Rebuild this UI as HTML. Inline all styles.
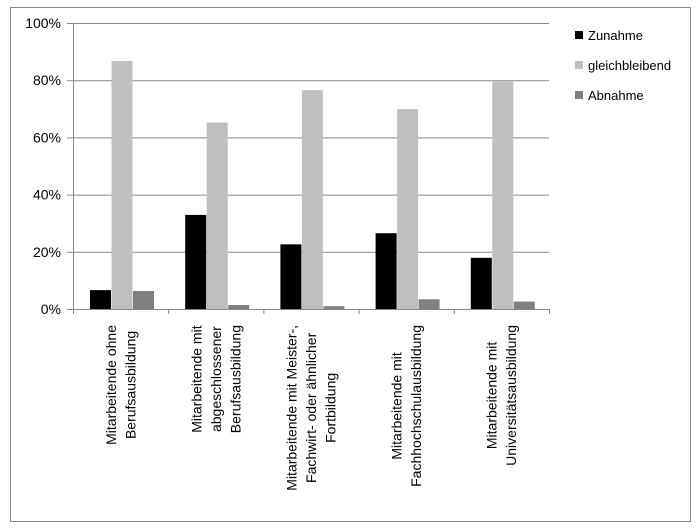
<!DOCTYPE html>
<html><head><meta charset="utf-8"><style>
body{margin:0;background:#fff;}
svg{display:block;font-family:"Liberation Sans",sans-serif;}
</style></head><body>
<svg id="chart" width="699" height="529" viewBox="0 0 699 529">
<rect x="10.5" y="7.5" width="680" height="514" fill="#fff" stroke="#888" stroke-width="1"/>
<g id="grid"></g><g id="bars"></g><g id="axes"></g><g id="labels"></g><g id="legend"></g>
</svg>
<script>
const categories=[["Mitarbeitende ohne","Berufsausbildung"],["Mitarbeitende mit","abgeschlossener","Berufsausbildung"],["Mitarbeitende mit Meister-,","Fachwirt- oder ähnlicher","Fortbildung"],["Mitarbeitende mit","Fachhochschulausbildung"],["Mitarbeitende mit","Universitätsausbildung"]];
const seriesNames=["Zunahme","gleichbleibend","Abnahme"];
const zunahme=[6.6,32.9,22.6,26.5,17.9];
const gleichbleibend=[86.7,65.2,76.5,69.9,79.5];
const abnahme=[6.3,1.4,1.0,3.4,2.6];
const yTicks=[0,20,40,60,80,100];
const tickLabels=["0%","20%","40%","60%","80%","100%"];
const NS="http://www.w3.org/2000/svg";
const colors=["#000000","#bfbfbf","#808080"];
const L=73,R=549,T=23,B=309;
const y=v=>B-(v/100)*(B-T);
const catW=(R-L)/categories.length;
const x=i=>L+i*catW;
function mk(tag,attrs,parent){const e=document.createElementNS(NS,tag);for(const k in attrs)e.setAttribute(k,attrs[k]);document.getElementById(parent).appendChild(e);return e;}
yTicks.forEach((t,i)=>{
 const g=mk('line',{x1:L-6,x2:R,y1:y(t)+0.5,y2:y(t)+0.5,stroke:'#888','stroke-width':1},'grid');
 
 
 const tx=mk('text',{x:L-12,y:y(t)+5,'text-anchor':'end','font-size':14,fill:'#000'},'axes');
 tx.textContent=tickLabels[i];
 
 
});
const ya=mk('line',{x1:L+0.5,x2:L+0.5,y1:T,y2:B,stroke:'#888'},'axes');


for(let i=0;i<=categories.length;i++){
 const tk=mk('line',{x1:x(i)+0.5,x2:x(i)+0.5,y1:B,y2:B+5,stroke:'#888'},'axes');
 
 
}
const series=[zunahme,gleichbleibend,abnahme];
const bw=21;
series.forEach((s,si)=>{
 s.forEach((v,i)=>{
  const bx=x(i)+17+si*21.5;
  const r=mk('rect',{x:bx,y:y(v),width:bw,height:B-y(v),fill:colors[si]},'bars');
  
  
 });
});
categories.forEach((lines,i)=>{
 const cx=x(i)+catW/2;
 const g=mk('g',{},'labels');
 
 
 const n=lines.length;
 const els=lines.map((ln,j)=>{
  const lx=cx+(j-(n-1)/2)*19.5+5;
  const t=document.createElementNS(NS,'text');
  t.setAttribute('font-size',14);
  t.setAttribute('text-anchor','middle');
  t.textContent=ln;
  g.appendChild(t);
  return [t,lx];
 });
 let maxW=0;els.forEach(([t])=>{maxW=Math.max(maxW,t.getComputedTextLength());});
 const cy=325+maxW/2;
 els.forEach(([t,lx])=>{t.setAttribute('transform','translate('+lx+','+cy+') rotate(-90)');});
});
seriesNames.forEach((nm,i)=>{
 const ly=35+i*30;
 const sq=mk('rect',{x:575,y:ly-4,width:8,height:8,fill:colors[i]},'legend');
 
 
 const t=mk('text',{x:588,y:ly+5,'font-size':13,fill:'#000'},'legend');
 t.textContent=nm;
 
 
});
</script>
</body></html>
